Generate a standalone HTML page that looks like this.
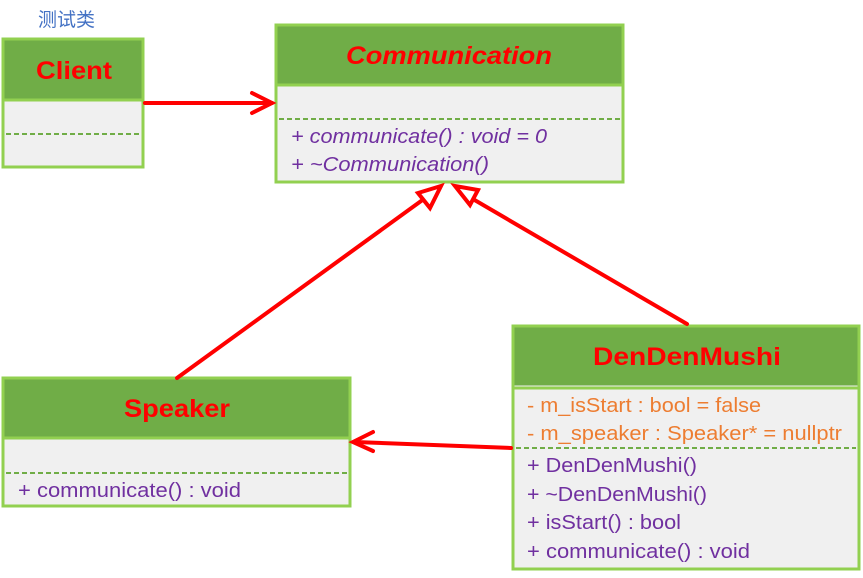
<!DOCTYPE html>
<html><head><meta charset="utf-8"><style>
body{margin:0;background:#fff;}
svg{display:block}
text{font-family:"Liberation Sans","Noto Sans CJK SC",sans-serif;}
</style></head><body>
<svg width="863" height="578" viewBox="0 0 863 578" xmlns="http://www.w3.org/2000/svg">
<text x="38" y="26" font-size="19" fill="#4472c4">测试类</text>
<!-- Client -->
<rect x="3" y="39" width="140" height="128" fill="#f0f0f0" stroke="#92d050" stroke-width="3"/>
<rect x="4.5" y="40.5" width="137" height="59" fill="#70ad47"/>
<line x1="3" y1="100" x2="143" y2="100" stroke="#92d050" stroke-width="3"/>
<text x="36" y="79" font-size="25" font-weight="bold" fill="#ff0000" textLength="76" lengthAdjust="spacingAndGlyphs">Client</text>
<line x1="6" y1="134" x2="140" y2="134" stroke="#70ad47" stroke-width="2" stroke-dasharray="5,3"/>
<!-- Communication -->
<rect x="276" y="25" width="347" height="157" fill="#f0f0f0" stroke="#92d050" stroke-width="3"/>
<rect x="277.5" y="26.5" width="344" height="57" fill="#70ad47"/>
<line x1="276" y1="85" x2="623" y2="85" stroke="#92d050" stroke-width="3"/>
<text x="346" y="64" font-size="25" font-weight="bold" font-style="italic" fill="#ff0000" textLength="206" lengthAdjust="spacingAndGlyphs">Communication</text>
<line x1="279" y1="119" x2="620" y2="119" stroke="#70ad47" stroke-width="2" stroke-dasharray="5,3"/>
<text x="291" y="143" font-size="20" font-style="italic" fill="#7030a0" textLength="256" lengthAdjust="spacingAndGlyphs">+ communicate() : void = 0</text>
<text x="291" y="171" font-size="20" font-style="italic" fill="#7030a0" textLength="198" lengthAdjust="spacingAndGlyphs">+ ~Communication()</text>
<!-- Speaker -->
<rect x="3" y="378" width="347" height="128" fill="#f0f0f0" stroke="#92d050" stroke-width="3"/>
<rect x="4.5" y="379.5" width="344" height="57" fill="#70ad47"/>
<line x1="3" y1="438" x2="350" y2="438" stroke="#92d050" stroke-width="3"/>
<text x="124" y="417" font-size="25" font-weight="bold" fill="#ff0000" textLength="106" lengthAdjust="spacingAndGlyphs">Speaker</text>
<line x1="6" y1="473" x2="347" y2="473" stroke="#70ad47" stroke-width="2" stroke-dasharray="5,3"/>
<text x="18" y="497" font-size="20" fill="#7030a0" textLength="223" lengthAdjust="spacingAndGlyphs">+ communicate() : void</text>
<!-- DenDenMushi -->
<rect x="513" y="326" width="346" height="243" fill="#f0f0f0" stroke="#92d050" stroke-width="3"/>
<rect x="514.5" y="327.5" width="343" height="58" fill="#70ad47"/>
<line x1="513" y1="388" x2="859" y2="388" stroke="#92d050" stroke-width="3"/>
<text x="593" y="365" font-size="25" font-weight="bold" fill="#ff0000" textLength="188" lengthAdjust="spacingAndGlyphs">DenDenMushi</text>
<text x="527" y="412" font-size="20" fill="#ed7d31" textLength="234" lengthAdjust="spacingAndGlyphs">- m_isStart : bool = false</text>
<text x="527" y="440" font-size="20" fill="#ed7d31" textLength="315" lengthAdjust="spacingAndGlyphs">- m_speaker : Speaker* = nullptr</text>
<line x1="516" y1="448" x2="856" y2="448" stroke="#70ad47" stroke-width="2" stroke-dasharray="5,3"/>
<text x="527" y="472" font-size="20" fill="#7030a0" textLength="170" lengthAdjust="spacingAndGlyphs">+ DenDenMushi()</text>
<text x="527" y="501" font-size="20" fill="#7030a0" textLength="180" lengthAdjust="spacingAndGlyphs">+ ~DenDenMushi()</text>
<text x="527" y="529" font-size="20" fill="#7030a0" textLength="154" lengthAdjust="spacingAndGlyphs">+ isStart() : bool</text>
<text x="527" y="558" font-size="20" fill="#7030a0" textLength="223" lengthAdjust="spacingAndGlyphs">+ communicate() : void</text>
<!-- arrows -->
<g stroke="#ff0000" stroke-width="4" fill="none" stroke-linecap="round">
<line x1="145" y1="103" x2="272" y2="103"/>
<polyline points="252,93 272,103 252,113"/>
<line x1="177" y1="378" x2="428" y2="196"/>
<line x1="687" y1="324" x2="466" y2="195"/>
<line x1="511" y1="448" x2="355" y2="442"/>
<polyline points="373,432 353,442 373,451"/>
<polygon points="441,186 418,193 430,208" fill="#fff"/>
<polygon points="455,186 470,205 478,190" fill="#fff"/>
</g>
</svg>
</body></html>
